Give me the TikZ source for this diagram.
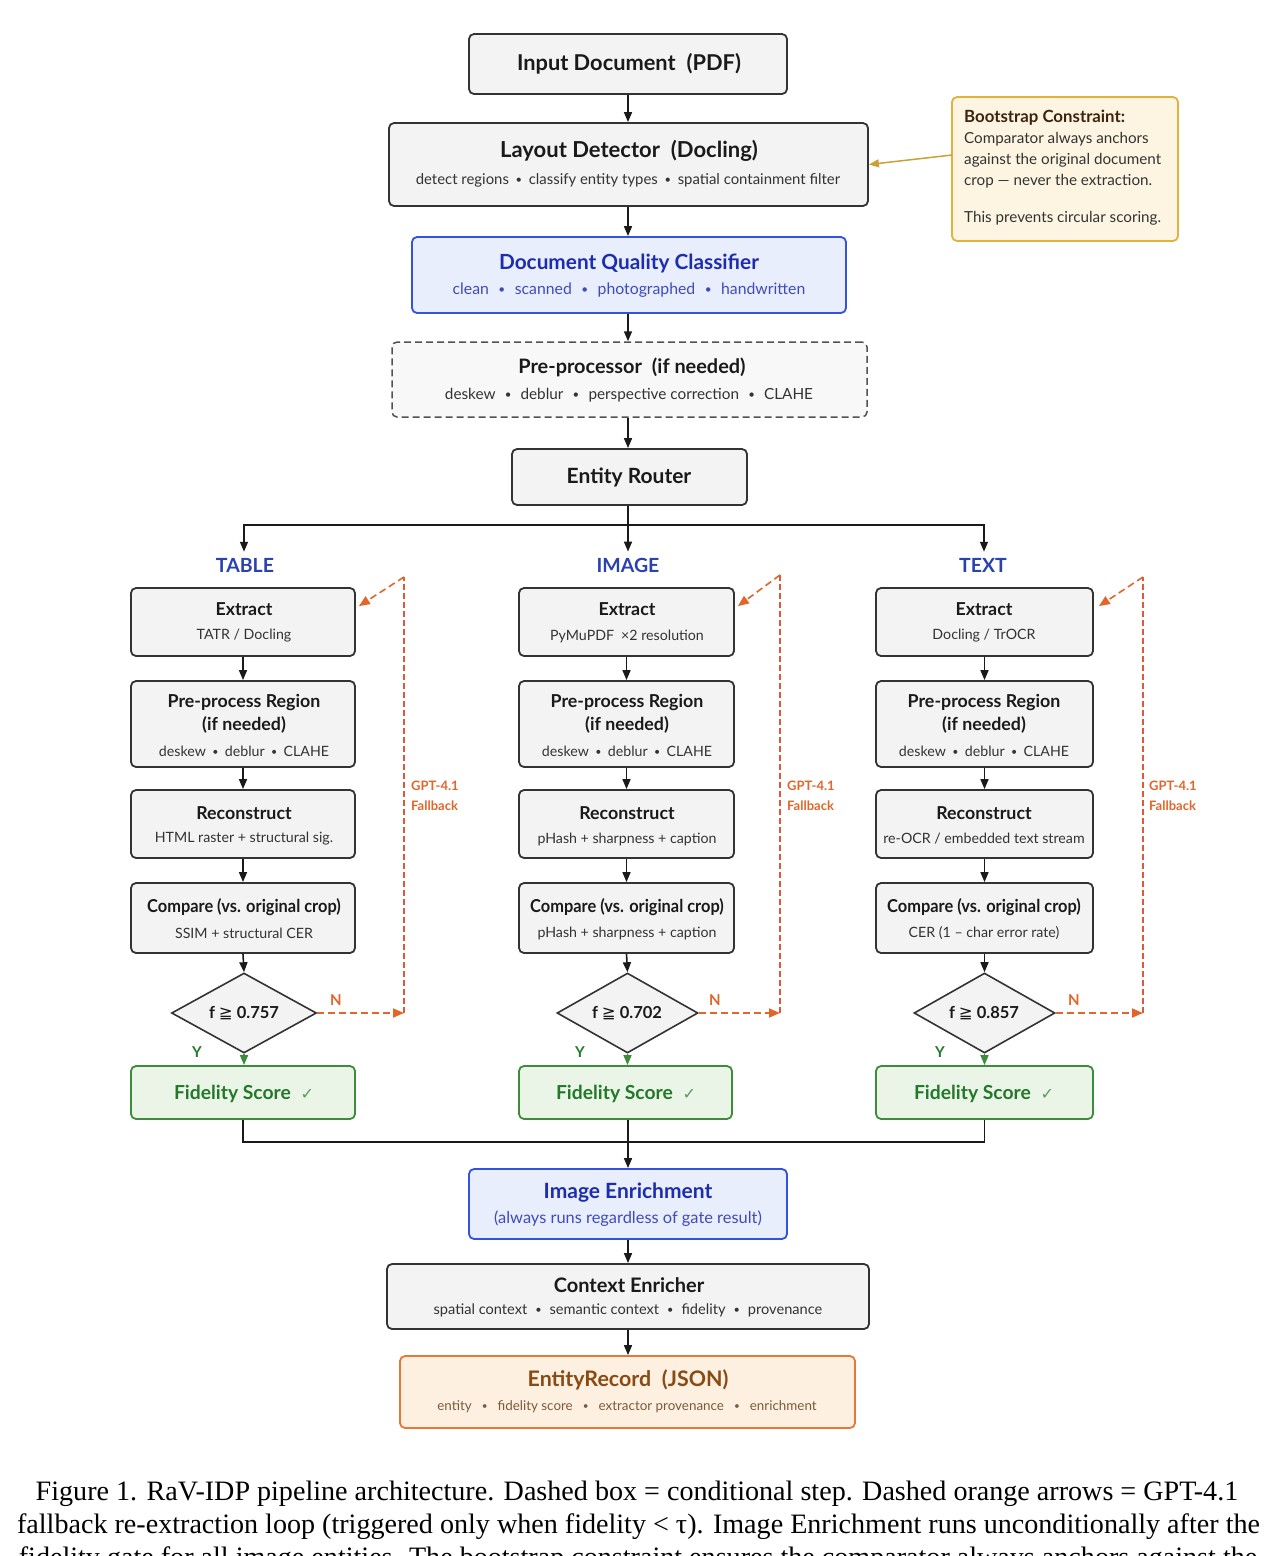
\documentclass[tikz,border=0pt]{standalone}
\usepackage{fontspec}
\usepackage{graphicx}
\setmainfont{Lato}
\newfontfamily\capfont{Liberation Serif}
\newfontfamily\symfont{DejaVu Sans}
\usetikzlibrary{arrows.meta,shapes.geometric}
\definecolor{boxline}{HTML}{333333}
\definecolor{boxfill}{HTML}{F3F3F3}
\definecolor{txt}{HTML}{1A1A1A}
\definecolor{subtxt}{HTML}{333333}
\definecolor{bluel}{HTML}{3452DB}
\definecolor{bluef}{HTML}{E9EEFC}
\definecolor{bluet}{HTML}{1C2DAE}
\definecolor{greenl}{HTML}{3C8C3C}
\definecolor{greenf}{HTML}{EAF5E7}
\definecolor{greent}{HTML}{23782A}
\definecolor{orng}{HTML}{E2662A}
\definecolor{orngv}{HTML}{E0583A}
\definecolor{goldl}{HTML}{E2B23C}
\definecolor{goldf}{HTML}{FDF5E2}
\definecolor{goldt}{HTML}{3E2410}
\definecolor{erl}{HTML}{E8783A}
\definecolor{erf}{HTML}{FDF0E0}
\definecolor{ert}{HTML}{8A4A14}
\definecolor{ers}{HTML}{7A5A3A}
\newcommand\sepdot[1][0.45em]{\hspace{#1}\raisebox{0.15ex}{\scalebox{0.75}{•}}\hspace{#1}}
\newcommand\fsz[1]{\fontsize{#1}{#1}\selectfont}
\begin{document}
\begin{tikzpicture}[x=1pt,y=-1pt,
  box/.style={draw=boxline, fill=boxfill, line width=1.8pt, rounded corners=5pt, inner sep=0pt},
  bbox/.style={draw=bluel, fill=bluef, line width=1.8pt, rounded corners=5pt, inner sep=0pt},
  gbox/.style={draw=greenl, fill=greenf, line width=1.8pt, rounded corners=5pt, inner sep=0pt},
  dbox/.style={draw=boxline!85, fill=boxfill!60, line width=1.5pt, dash pattern=on 7pt off 4pt, rounded corners=5pt, inner sep=0pt},
  dia/.style={draw=boxline, fill=boxfill, line width=1.6pt, diamond, aspect=1.8, inner sep=0pt, minimum width=145pt, minimum height=80pt},
  bigt/.style={font=\bfseries, text=txt, inner sep=0pt},
  colt/.style={font=\fsz{17.8}\bfseries, text=txt, inner sep=0pt},
  subt/.style={font=\fsz{14.2}, text=subtxt, inner sep=0pt},
  brt/.style={font=\fsz{19.5}\bfseries, text=bluel!80!black, inner sep=0pt},
  ynt/.style={font=\fsz{15}\bfseries, inner sep=0pt},
  fbt/.style={font=\fontsize{13}{20}\selectfont\bfseries, text=orng, inner sep=0pt, anchor=west, align=left},
  arr/.style={draw=txt, line width=1.6pt, -{Triangle[length=10pt,width=8pt]}},
  ln/.style={draw=txt, line width=1.6pt},
  garr/.style={draw=greenl, line width=1.6pt, -{Triangle[length=10pt,width=8pt]}},
  farr/.style={draw=orng, line width=1.8pt, dash pattern=on 7pt off 4pt, -{Triangle[length=11pt,width=9pt]}},
  fln/.style={draw=orngv, line width=1.2pt, dash pattern=on 6pt off 3pt}
]
\useasboundingbox (0,0) rectangle (1283,1556);
\clip (0,0) rectangle (1283,1556);
\fill[white] (0,0) rectangle (1283,1556);

% ---------- top chain ----------
\node[box, minimum width=318pt, minimum height=60pt] (input) at (628,64) {};
\node[bigt, font=\fsz{21.8}\bfseries] (inputT) at (629,64) {Input Document\enspace(PDF)};

\node[box, minimum width=479pt, minimum height=83pt] (layout) at (628.5,164.5) {};
\node[bigt, font=\fsz{22}\bfseries] (layoutT) at (629,151) {Layout Detector\enspace(Docling)};
\node[subt, font=\fsz{14.9}] (layoutS) at (628,180) {detect regions\sepdot classify entity types\sepdot spatial containment filter};

\node[draw=goldl, fill=goldf, line width=1.8pt, rounded corners=5pt, minimum width=226pt, minimum height=144pt, inner sep=0pt] (boot) at (1065,169) {};
\node[font=\fsz{16.8}\bfseries, text=goldt, anchor=west, inner sep=0pt] (bootT) at (964,118) {Bootstrap Constraint:};
\node[font=\fontsize{15.2}{21}\selectfont, text=subtxt, anchor=north west, align=left, inner sep=0pt] (bootS) at (964,132) {Comparator always anchors\\against the original document\\crop — never the extraction.};
\node[font=\fsz{15.2}, text=subtxt, anchor=west, inner sep=0pt] (bootS2) at (964,218) {This prevents circular scoring.};
\coordinate (bootIn) at (952,155);
\draw[draw=goldl!90!black, line width=1.5pt, -{Triangle[length=10pt,width=8pt]}] (bootIn) -- (layout.east);

\node[bbox, minimum width=434pt, minimum height=76pt] (dqc) at (629,275) {};
\node[font=\fsz{20.8}\bfseries, text=bluet, inner sep=0pt] (dqcT) at (629,263) {Document Quality Classifier};
\node[font=\fsz{15.8}, text=bluet!85, inner sep=0pt] (dqcS) at (629,290) {clean\sepdot[0.6em]scanned\sepdot[0.6em]photographed\sepdot[0.6em]handwritten};

\node[dbox, minimum width=475pt, minimum height=75pt] (pre) at (629.5,379.5) {};
\node[bigt, font=\fsz{19.9}\bfseries] (preT) at (632,367) {Pre-processor\enspace(if needed)};
\node[subt, font=\fsz{15.3}] (preS) at (629,395) {deskew\sepdot[0.6em]deblur\sepdot[0.6em]perspective correction\sepdot[0.6em]CLAHE};

\node[box, minimum width=235pt, minimum height=56pt] (router) at (629.5,477) {};
\node[bigt, font=\fsz{21}\bfseries] (routerT) at (629,477) {Entity Router};

\draw[arr] (input.south) -- (input.south |- layout.north);
\draw[arr] (input.south |- layout.south) -- (input.south |- dqc.north);
\draw[arr] (input.south |- dqc.south) -- (input.south |- pre.north);
\draw[arr] (input.south |- pre.south) -- (input.south |- router.north);

% ---------- branch ----------
\node[brt] (tabL) at (245,565) {TABLE};
\node[brt] (imgL) at (628,565) {IMAGE};
\node[brt] (txtL) at (983,565) {TEXT};
\coordinate (split) at (628,525);
\draw[ln] (input.south |- router.south) -- (split);
\draw[arr] (split) -| ([yshift=6pt]tabL.north -| 244,0);
\draw[arr] (split) -- ([yshift=6pt]imgL.north);
\draw[arr] (split) -| ([yshift=6pt]txtL.north -| 984,0);

% ---------- columns ----------
% left
\node[box, minimum width=224pt, minimum height=68pt] (ex1) at (243,622) {};
\node[colt] at (244,609) {Extract};
\node[subt] at (244,636) {TATR / Docling};
\node[box, minimum width=224pt, minimum height=86pt] (pr1) at (243,724) {};
\node[colt] at (244,702) {Pre-process Region};
\node[colt] at (244,725) {(if needed)};
\node[subt] at (244,751) {deskew\sepdot deblur\sepdot CLAHE};
\node[box, minimum width=224pt, minimum height=68pt] (rc1) at (243,824) {};
\node[colt] at (244,813) {Reconstruct};
\node[subt] at (244,839) {HTML raster + structural sig.};
\node[box, minimum width=224pt, minimum height=70pt] (cp1) at (243,918) {};
\node[colt] at (244,907) {\scalebox{0.92}[1]{Compare (vs. original crop)}};
\node[subt] at (244,933) {SSIM + structural CER};
\node[dia] (d1) at (244,1013) {};
\node[colt, font=\fsz{16.5}\bfseries] at (244,1013) {f {\symfont\mdseries ≧} 0.757};
\node[gbox, minimum width=224pt, minimum height=53pt] (fs1) at (243,1092.5) {};
\node[colt, font=\fsz{19.3}\bfseries, text=greent] at (244,1094) {Fidelity Score\enspace{\symfont\mdseries\color{greent!75}\fsz{16}✓}};

% middle
\node[box, minimum width=215pt, minimum height=68pt] (ex2) at (626.5,622) {};
\node[colt] at (627,609) {Extract};
\node[subt] at (627,636) {PyMuPDF\enspace×2 resolution};
\node[box, minimum width=215pt, minimum height=86pt] (pr2) at (626.5,724) {};
\node[colt] at (627,702) {Pre-process Region};
\node[colt] at (627,725) {(if needed)};
\node[subt] at (627,751) {deskew\sepdot deblur\sepdot CLAHE};
\node[box, minimum width=215pt, minimum height=68pt] (rc2) at (626.5,824) {};
\node[colt] at (627,813) {Reconstruct};
\node[subt] at (627,839) {pHash + sharpness + caption};
\node[box, minimum width=215pt, minimum height=70pt] (cp2) at (626.5,918) {};
\node[colt] at (627,907) {\scalebox{0.92}[1]{Compare (vs. original crop)}};
\node[subt] at (627,933) {pHash + sharpness + caption};
\node[dia, minimum width=141pt] (d2) at (627.5,1013) {};
\node[colt, font=\fsz{16.5}\bfseries] at (627,1013) {f {\symfont\mdseries ≧} 0.702};
\node[gbox, minimum width=213pt, minimum height=53pt] (fs2) at (625.5,1092.5) {};
\node[colt, font=\fsz{19.3}\bfseries, text=greent] at (626,1094) {Fidelity Score\enspace{\symfont\mdseries\color{greent!75}\fsz{16}✓}};

% right
\node[box, minimum width=217pt, minimum height=68pt] (ex3) at (984.5,622) {};
\node[colt] at (984,609) {Extract};
\node[subt] at (984,636) {Docling / TrOCR};
\node[box, minimum width=217pt, minimum height=86pt] (pr3) at (984.5,724) {};
\node[colt] at (984,702) {Pre-process Region};
\node[colt] at (984,725) {(if needed)};
\node[subt] at (984,751) {deskew\sepdot deblur\sepdot CLAHE};
\node[box, minimum width=217pt, minimum height=68pt] (rc3) at (984.5,824) {};
\node[colt] at (984,813) {Reconstruct};
\node[subt] at (984,839) {re-OCR / embedded text stream};
\node[box, minimum width=217pt, minimum height=70pt] (cp3) at (984.5,918) {};
\node[colt] at (984,907) {\scalebox{0.92}[1]{Compare (vs. original crop)}};
\node[subt] at (984,933) {CER (1 – char error rate)};
\node[dia, minimum width=141pt] (d3) at (984.5,1013) {};
\node[colt, font=\fsz{16.5}\bfseries] at (984,1013) {f {\symfont\mdseries ≧} 0.857};
\node[gbox, minimum width=217pt, minimum height=53pt] (fs3) at (984.5,1092.5) {};
\node[colt, font=\fsz{19.3}\bfseries, text=greent] at (984,1094) {Fidelity Score\enspace{\symfont\mdseries\color{greent!75}\fsz{16}✓}};

% column arrows
\foreach \c in {1,2,3}{
  \draw[arr] (ex\c.south) -- (pr\c.north);
  \draw[arr] (pr\c.south) -- (rc\c.north);
  \draw[arr] (rc\c.south) -- (cp\c.north);
  \draw[arr] (cp\c.south) -- (d\c.north);
  \draw[garr] (d\c.south) -- (d\c.south |- fs\c.north);
}

% Y / N labels
\node[ynt, text=greent] (y1) at (197,1052) {Y};
\node[ynt, text=orng] (n1) at (336,1000) {N};
\node[ynt, text=greent] (y2) at (580,1052) {Y};
\node[ynt, text=orng] (n2) at (715,1000) {N};
\node[ynt, text=greent] (y3) at (940,1052) {Y};
\node[ynt, text=orng] (n3) at (1074,1000) {N};

% fallback loops
\coordinate (fb1b) at (404,1013);
\coordinate (fb1t) at (404,577);
\coordinate (fb2b) at (780,1013);
\coordinate (fb2t) at (780,575);
\coordinate (fb3b) at (1143,1013);
\coordinate (fb3t) at (1143,577);
\draw[farr] (d1.east) -- (fb1b);
\draw[farr] (d2.east) -- (fb2b);
\draw[farr] (d3.east) -- (fb3b);
\draw[fln] (fb1b) -- (fb1t);
\draw[fln] (fb2b) -- (fb2t);
\draw[fln] (fb3b) -- (fb3t);
\draw[farr, line width=1.6pt] (fb1t) -- ([xshift=3pt,yshift=-19pt]ex1.north east);
\draw[farr, line width=1.6pt] (fb2t) -- ([xshift=3pt,yshift=-19pt]ex2.north east);
\draw[farr, line width=1.6pt] (fb3t) -- ([xshift=5pt,yshift=-19pt]ex3.north east);
\node[fbt] (g1) at (411,796) {GPT-4.1\\Fallback};
\node[fbt] (g2) at (787,796) {GPT-4.1\\Fallback};
\node[fbt] (g3) at (1149,796) {GPT-4.1\\Fallback};

% ---------- merge ----------
\coordinate (merge) at (628,1142);
\draw[ln] (fs1.south) |- (merge);
\draw[ln] (fs3.south) |- (merge);

\node[bbox, minimum width=318pt, minimum height=70pt] (enr) at (628,1204) {};
\node[font=\fsz{21}\bfseries, text=bluet, inner sep=0pt] (enrT) at (628,1193) {Image Enrichment};
\node[font=\fsz{16.4}, text=bluet!85, inner sep=0pt] (enrS) at (628,1219) {(always runs regardless of gate result)};
\draw[arr] (fs2.south -| merge) -- (merge |- enr.north);

\node[box, minimum width=482pt, minimum height=65pt] (ctx) at (628,1296.5) {};
\node[bigt, font=\fsz{20}\bfseries] (ctxT) at (629,1285) {Context Enricher};
\node[subt, font=\fsz{14.6}] (ctxS) at (628,1310) {spatial context\sepdot[0.55em]semantic context\sepdot[0.55em]fidelity\sepdot[0.55em]provenance};
\draw[arr] (enr.south) -- (ctx.north);

\node[draw=erl, fill=erf, line width=1.8pt, rounded corners=5pt, minimum width=455pt, minimum height=72pt, inner sep=0pt] (er) at (627.5,1392) {};
\node[font=\fsz{21.4}\bfseries, text=ert, inner sep=0pt] (erT) at (628,1380) {EntityRecord\enspace(JSON)};
\node[font=\fsz{13.4}, text=ers, inner sep=0pt] (erS) at (627,1407) {entity\sepdot[0.75em]fidelity score\sepdot[0.75em]extractor provenance\sepdot[0.75em]enrichment};
\draw[arr] (ctx.south -| merge) -- (merge |- er.north);

% ---------- caption ----------
\node[font=\capfont\fsz{28.1}, inner sep=0pt] (cap1) at (637,1494) {Figure 1. RaV-IDP pipeline architecture. Dashed box = conditional step. Dashed orange arrows = GPT-4.1};
\node[font=\capfont\fsz{28.1}, inner sep=0pt] (cap2) at (638.5,1527) {fallback re-extraction loop (triggered only when fidelity < τ). Image Enrichment runs unconditionally after the};
\node[font=\capfont\fsz{28.1}, inner sep=0pt] (cap3) at (638,1560) {fidelity gate for all image entities. The bootstrap constraint ensures the comparator always anchors against the};
\end{tikzpicture}
\end{document}
